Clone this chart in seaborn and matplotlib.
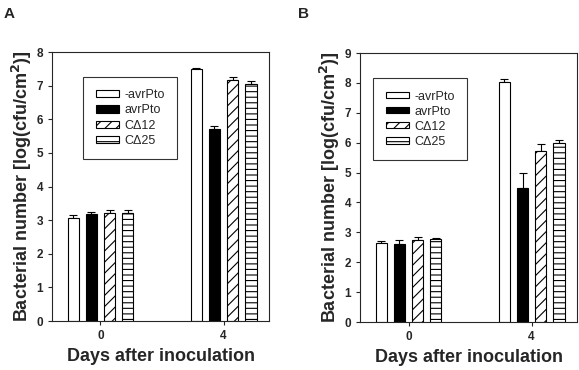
import matplotlib
matplotlib.use("Agg")
import matplotlib.pyplot as plt
import seaborn as sns
import pandas as pd
import numpy as np

days = ["0", "4"]
strains = ["-avrPto", "avrPto", "C\u039412", "C\u039425"]

# panel A
a_day0 = [3.07, 3.18, 3.21, 3.21]
a_day0_err = [0.07, 0.05, 0.08, 0.09]
a_day4 = [7.50, 5.70, 7.18, 7.06]
a_day4_err = [0.01, 0.10, 0.08, 0.07]

# panel B
b_day0 = [2.65, 2.61, 2.75, 2.77]
b_day0_err = [0.07, 0.12, 0.10, 0.03]
b_day4 = [8.02, 4.47, 5.73, 5.98]
b_day4_err = [0.10, 0.50, 0.22, 0.10]

colors = ["white", "black", "white", "white"]
hatches = [None, None, "///", "---"]

sns.set_style("ticks")
plt.rcParams["font.family"] = ["Liberation Sans", "DejaVu Sans"]
plt.rcParams["hatch.linewidth"] = 0.8


def make_df(v0, e0, v4, e4):
    rows = []
    for s, v, e in zip(strains, v0, e0):
        rows.append({"day": days[0], "strain": s, "value": v, "err": e})
    for s, v, e in zip(strains, v4, e4):
        rows.append({"day": days[1], "strain": s, "value": v, "err": e})
    return pd.DataFrame(rows)


def panel(ax, df, ymax, leg_anchor, leg_kw):
    sns.barplot(data=df, x="day", y="value", hue="strain", order=days,
                hue_order=strains, palette=colors, saturation=1,
                errorbar=None, width=0.59, gap=0.37, legend=False,
                edgecolor="black", linewidth=0.8, ax=ax)
    bars = list(ax.containers)
    for i, cont in enumerate(bars):
        cont.set_label(strains[i])
        sub = df[df["strain"] == strains[i]].set_index("day").loc[days]
        xs = [p.get_x() + p.get_width() / 2 for p in cont.patches]
        for p in cont.patches:
            p.set_zorder(2)
            if hatches[i]:
                p.set_hatch(hatches[i])
        ax.errorbar(xs, sub["value"].values,
                    yerr=[np.zeros(len(xs)), sub["err"].values],
                    fmt="none", ecolor="black", elinewidth=0.8,
                    capsize=3, capthick=0.8, zorder=1)
    ax.set_xlim(-0.394, 1.37)
    ax.set_ylim(0, ymax)
    ax.set_yticks(range(0, ymax + 1))
    for sp in ax.spines.values():
        sp.set_visible(True)
        sp.set_linewidth(0.8)
    ax.tick_params(length=3, width=0.8, labelsize=8.5)
    for t in ax.get_xticklabels() + ax.get_yticklabels():
        t.set_fontweight("bold")
    ax.set_xlabel("Days after inoculation", fontsize=13, fontweight="bold",
                  labelpad=4)
    ax.set_ylabel("Bacterial number [log(cfu/cm$^\\mathbf{2}$)]", fontsize=13,
                  fontweight="bold", labelpad=2)
    leg = ax.legend(handles=bars, loc="upper left",
                    bbox_to_anchor=leg_anchor, fontsize=9, frameon=True,
                    fancybox=False, edgecolor="black", handlelength=1.9,
                    handletextpad=0.4, borderaxespad=0, **leg_kw)
    leg.get_frame().set_linewidth(0.8)


fig = plt.figure(figsize=(5.79, 3.70), dpi=100)
ax1 = fig.add_axes([0.0898, 0.1324, 0.375, 0.727])
ax2 = fig.add_axes([0.6218, 0.1297, 0.375, 0.727])

panel(ax1, make_df(a_day0, a_day0_err, a_day4, a_day4_err), 8,
      (0.143, 0.908), dict(handleheight=0.5, labelspacing=0.25, borderpad=1.0))
panel(ax2, make_df(b_day0, b_day0_err, b_day4, b_day4_err), 9,
      (0.06, 0.907), dict(handleheight=0.4, labelspacing=0.25, borderpad=1.0))

fig.text(0.007, 0.98, "A", fontsize=11, fontweight="bold", va="top")
fig.text(0.515, 0.98, "B", fontsize=11, fontweight="bold", va="top")

fig.savefig("out.png", dpi=100)
